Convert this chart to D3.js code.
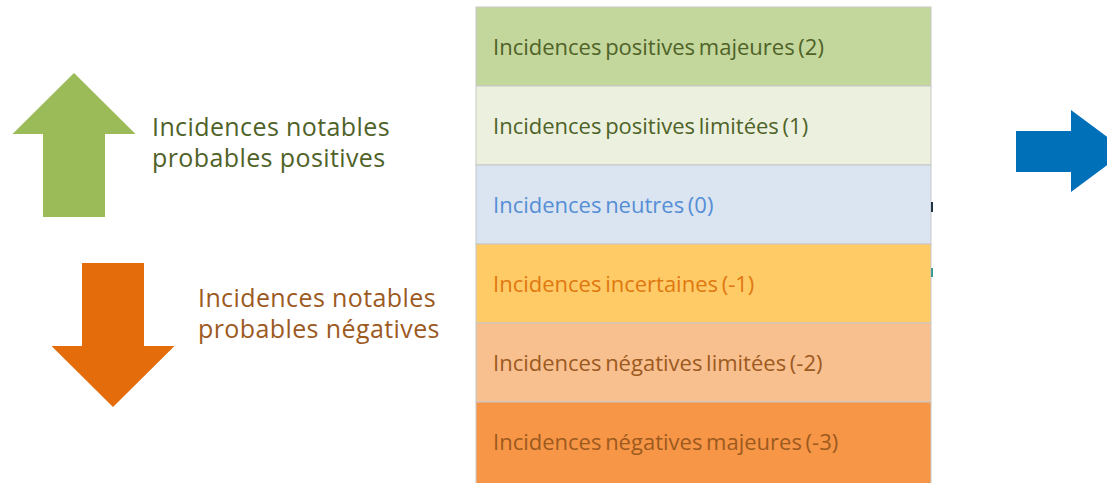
<!DOCTYPE html>
<html>
<head>
<meta charset="utf-8">
<script src="https://cdn.jsdelivr.net/npm/d3@7"></script>
<style>
  body { margin: 0; background: #fff; }
  svg { display: block; font-family: "Open Sans", sans-serif; }
</style>
</head>
<body>
<svg id="chart" width="1107" height="483"></svg>
<script>
// scale levels, top to bottom
let levels = [2, 1, 0, -1, -2, -3];
let levelLabels = [
    'Incidences positives majeures (2)',
    'Incidences positives limitées (1)',
    'Incidences neutres (0)',
    'Incidences incertaines (-1)',
    'Incidences négatives limitées (-2)',
    'Incidences négatives majeures (-3)'
];
let levelFills = ['#c3d69b', '#ebf1de', '#dbe5f1', '#ffcb66', '#f8bf8f', '#f79646'];
let levelText = ['#4f6228', '#4f6228', '#558ed5', '#e07810', '#9c5a1f', '#9c5a1f'];

let sideLabels = [
    ['Incidences notables', 'probables positives'],
    ['Incidences notables', 'probables négatives']
];

let svg = d3.select('#chart');

// table of levels
let y = d3.scaleBand().domain(levels).range([7, 481]);
let tableLeft = 476, tableRight = 931;

let rows = svg.append('g');
rows.selectAll('rect')
    .data(levels)
    .enter().append('rect')
    .attr('x', tableLeft)
    .attr('y', d => y(d))
    .attr('width', tableRight - tableLeft)
    .attr('height', (d, i) => i == levels.length - 1 ? y.bandwidth() + 10 : y.bandwidth())
    .attr('fill', (d, i) => levelFills[i])
    .attr('stroke', '#c8c8c8')
    .attr('stroke-width', 1);

rows.selectAll('text')
    .data(levels)
    .enter().append('text')
    .attr('x', tableLeft + 17)
    .attr('y', d => y(d) + y.bandwidth() / 2)
    .attr('dy', '0.38em')
    .attr('font-size', 22)
    .attr('word-spacing', -2)
    .attr('fill', (d, i) => levelText[i])
    .text((d, i) => levelLabels[i]);

// little marks at the table's right edge
svg.append('rect').attr('x', 931).attr('y', 202).attr('width', 2).attr('height', 10).attr('fill', '#1f3347');
svg.append('rect').attr('x', 931).attr('y', 268).attr('width', 2).attr('height', 9).attr('fill', '#3a9a9a');

// arrows
function arrowPath(cx, y0, y1, shaftW, headW, headLen){
    // vertical arrow from y0 (tail) to y1 (tip)
    let dir = y1 > y0 ? 1 : -1;
    let hb = y1 - dir * headLen;
    return d3.line()([
        [cx - shaftW/2, y0], [cx - shaftW/2, hb], [cx - headW/2, hb],
        [cx, y1], [cx + headW/2, hb], [cx + shaftW/2, hb], [cx + shaftW/2, y0]
    ]) + 'Z';
}
svg.append('path').attr('d', arrowPath(74, 217, 73, 62, 123, 61)).attr('fill', '#9bbb59');
svg.append('path').attr('d', arrowPath(113, 263, 407, 62, 123, 61)).attr('fill', '#e46c0a');

// right arrow (cut off by the edge)
svg.append('path')
    .attr('d', d3.line()([[1016, 131], [1071, 131], [1071, 110], [1126, 151], [1071, 192], [1071, 172], [1016, 172]]) + 'Z')
    .attr('fill', '#0070b8');

let sideX = [152, 198], sideY = [136, 307], sideColor = ['#4f6228', '#9c5a1f'];
sideLabels.forEach((lines, i) => {
    let t = svg.append('text')
        .attr('x', sideX[i])
        .attr('y', sideY[i])
        .attr('font-size', 25)
        .attr('letter-spacing', 0.4)
        .attr('fill', sideColor[i]);
    lines.forEach((l, j) => {
        t.append('tspan').attr('x', sideX[i]).attr('dy', j == 0 ? 0 : 31).text(l);
    });
});
</script>
</body>
</html>
